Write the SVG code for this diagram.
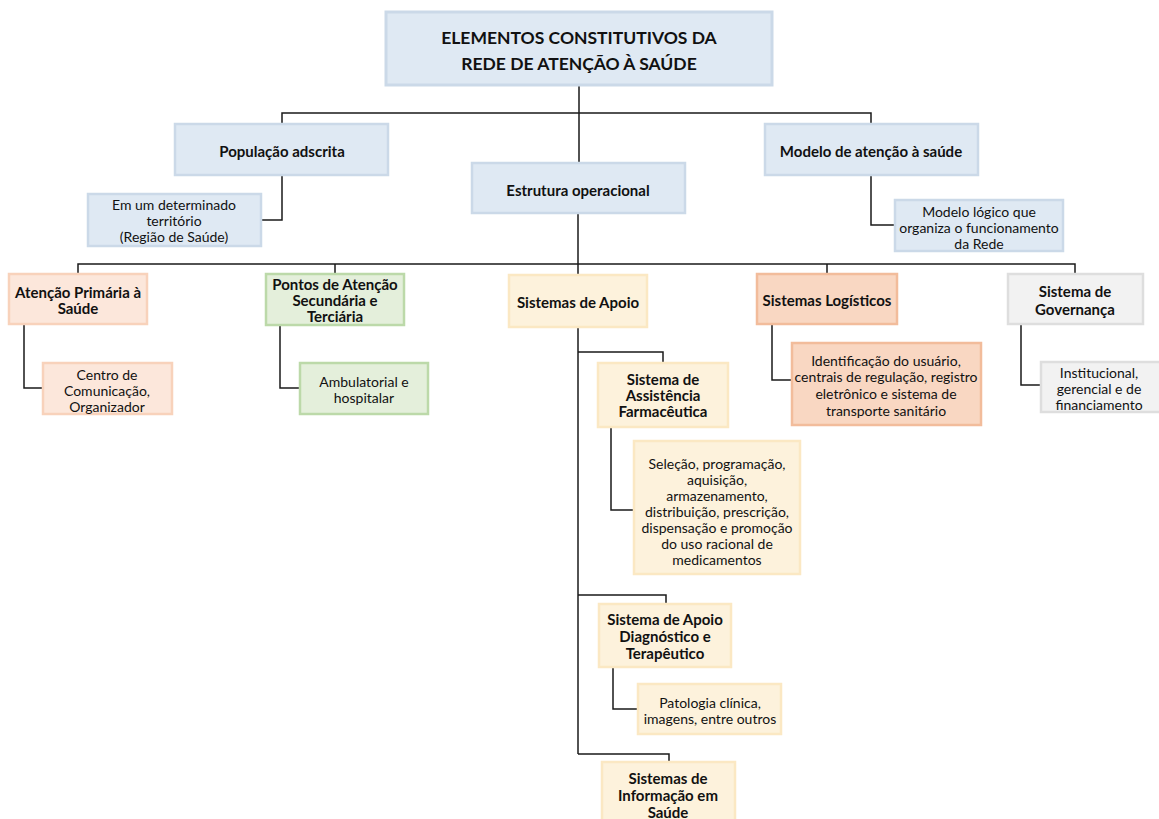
<svg xmlns="http://www.w3.org/2000/svg" width="1159" height="819" viewBox="0 0 1159 819">
<style>
.b{stroke-width:2.5}
.blue{fill:#dfe9f3;stroke:#cbd9e8}
.org{fill:#fce7db;stroke:#f8d2bb}
.grn{fill:#e4efdb;stroke:#bcd9a9}
.yel{fill:#fdf2dc;stroke:#fbe8c3}
.log{fill:#f9d7c2;stroke:#f2bc9b}
.gry{fill:#f2f2f2;stroke:#dedede}
text{font-family:Lato,"Open Sans","Liberation Sans",sans-serif;fill:#111;text-anchor:middle;dominant-baseline:central}
.t{font-size:15px;font-weight:bold}
.r{font-size:17.5px;font-weight:bold}
.s{font-size:14px}
.c{fill:none;stroke:#1a1a1a;stroke-width:1.5}
</style>
<rect width="1159" height="819" fill="#fff"/>
<g id="connectors" class="c">
<path d="M579 85V163M282 124V113H871V124"/>
<path d="M282 175V220H261"/>
<path d="M871 175V225H895"/>
<path d="M578 213V754"/>
<path d="M78 274V264H1075V274M335 264V274M827 264V274"/>
<path d="M24 324V388H43"/>
<path d="M280 325V388H300"/>
<path d="M772 324V380H792"/>
<path d="M1021 324V385H1041"/>
<path d="M578 352H663V363"/>
<path d="M611 427V510H634"/>
<path d="M578 595H666V604"/>
<path d="M613 667V709H638"/>
<path d="M578 754H669V762"/>
</g>
<g id="root"><rect class="blue" x="386" y="12" width="386" height="73" stroke-width="3"/>
<text class="r" x="579" y="37">ELEMENTOS CONSTITUTIVOS DA</text><text class="r" x="579" y="63">REDE DE ATENÇÃO À SAÚDE</text></g>
<g id="populacao"><rect class="blue b" x="175" y="124" width="213" height="51"/><text class="t" x="282" y="151">População adscrita</text></g>
<g id="modelo"><rect class="blue b" x="765" y="124" width="213" height="51"/><text class="t" x="871" y="151">Modelo de atenção à saúde</text></g>
<g id="estrutura"><rect class="blue b" x="472" y="163" width="213" height="50"/><text class="t" x="578" y="190">Estrutura operacional</text></g>
<g id="territorio"><rect class="blue b" x="88" y="194" width="173" height="52"/><text class="s" x="174" y="204">Em um determinado</text><text class="s" x="174" y="220">território</text><text class="s" x="174" y="236">(Região de Saúde)</text></g>
<g id="modelo-logico"><rect class="blue b" x="895" y="200" width="168" height="51"/><text class="s" x="979" y="211">Modelo lógico que</text><text class="s" x="979" y="227">organiza o funcionamento</text><text class="s" x="979" y="243">da Rede</text></g>
<g id="aps"><rect class="org b" x="9" y="274" width="138" height="50"/><text class="t" x="78" y="292">Atenção Primária à</text><text class="t" x="78" y="308">Saúde</text></g>
<g id="centro"><rect class="org b" x="43" y="363" width="129" height="51"/><text class="s" x="107" y="374">Centro de</text><text class="s" x="107" y="390">Comunicação,</text><text class="s" x="107" y="406">Organizador</text></g>
<g id="pontos"><rect class="grn b" x="266" y="274" width="138" height="51"/><text class="t" x="335" y="284">Pontos de Atenção</text><text class="t" x="335" y="300">Secundária e</text><text class="t" x="335" y="316">Terciária</text></g>
<g id="ambulatorial"><rect class="grn b" x="300" y="363" width="128" height="51"/><text class="s" x="364" y="381">Ambulatorial e</text><text class="s" x="364" y="397">hospitalar</text></g>
<g id="apoio"><rect class="yel b" x="509" y="275" width="138" height="52"/><text class="t" x="578" y="302">Sistemas de Apoio</text></g>
<g id="logisticos"><rect class="log b" x="757" y="274" width="140" height="50"/><text class="t" x="827" y="300">Sistemas Logísticos</text></g>
<g id="governanca"><rect class="gry b" x="1008" y="274" width="135" height="50"/><text class="t" x="1075" y="291">Sistema de</text><text class="t" x="1075" y="309">Governança</text></g>
<g id="identificacao"><rect class="log b" x="792" y="343" width="189" height="82"/><text class="s" x="886" y="360">Identificação do usuário,</text><text class="s" x="886" y="376">centrais de regulação, registro</text><text class="s" x="886" y="393">eletrônico e sistema de</text><text class="s" x="886" y="410">transporte sanitário</text></g>
<g id="institucional"><rect class="gry b" x="1041" y="362" width="120" height="50"/><text class="s" x="1099" y="372">Institucional,</text><text class="s" x="1099" y="388">gerencial e de</text><text class="s" x="1099" y="404">financiamento</text></g>
<g id="farmaceutica"><rect class="yel b" x="598" y="363" width="130" height="64"/><text class="t" x="663" y="379">Sistema de</text><text class="t" x="663" y="395">Assistência</text><text class="t" x="663" y="411">Farmacêutica</text></g>
<g id="selecao"><rect class="yel b" x="634" y="441" width="166" height="133"/><text class="s" x="717" y="463">Seleção, programação,</text><text class="s" x="717" y="479">aquisição,</text><text class="s" x="717" y="495">armazenamento,</text><text class="s" x="717" y="511">distribuição, prescrição,</text><text class="s" x="717" y="527">dispensação e promoção</text><text class="s" x="717" y="543">do uso racional de</text><text class="s" x="717" y="559">medicamentos</text></g>
<g id="diagnostico"><rect class="yel b" x="599" y="604" width="132" height="63"/><text class="t" x="665" y="619">Sistema de Apoio</text><text class="t" x="665" y="636">Diagnóstico e</text><text class="t" x="665" y="653">Terapêutico</text></g>
<g id="patologia"><rect class="yel b" x="638" y="684" width="143" height="50"/><text class="s" x="710" y="702">Patologia clínica,</text><text class="s" x="710" y="718">imagens, entre outros</text></g>
<g id="informacao"><rect class="yel b" x="602" y="762" width="133" height="62"/><text class="t" x="668" y="778">Sistemas de</text><text class="t" x="668" y="795">Informação em</text><text class="t" x="668" y="812">Saúde</text></g>
</svg>
